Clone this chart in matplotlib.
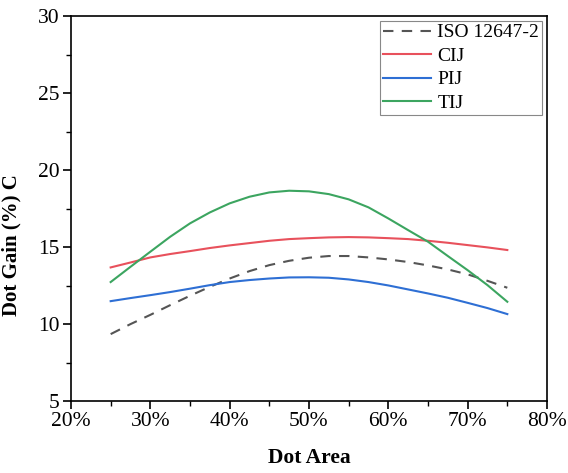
import matplotlib
matplotlib.use("Agg")
import matplotlib.pyplot as plt
from matplotlib.ticker import MultipleLocator, FuncFormatter

plt.rcParams["font.family"] = ["Liberation Serif", "DejaVu Serif"]

# dot area (%) sampled every 2.5 %
dot_area = [25, 27.5, 30, 32.5, 35, 37.5, 40, 42.5, 45, 47.5, 50,
            52.5, 55, 57.5, 60, 62.5, 65, 67.5, 70, 72.5, 75]
iso = [9.35, 10.0, 10.6, 11.23, 11.84, 12.42, 12.96, 13.44, 13.83, 14.11, 14.31,
       14.42, 14.42, 14.33, 14.2, 14.03, 13.81, 13.55, 13.23, 12.81, 12.36]
cij = [13.68, 14.0, 14.33, 14.55, 14.74, 14.94, 15.11, 15.26, 15.41, 15.52, 15.58,
       15.63, 15.65, 15.63, 15.58, 15.52, 15.41, 15.28, 15.13, 14.98, 14.81]
pij = [11.49, 11.69, 11.88, 12.08, 12.3, 12.53, 12.73, 12.86, 12.96, 13.03, 13.04,
       13.01, 12.9, 12.73, 12.51, 12.25, 11.99, 11.71, 11.38, 11.04, 10.65]
tij = [12.73, 13.72, 14.7, 15.67, 16.54, 17.25, 17.84, 18.27, 18.55, 18.66, 18.62,
       18.44, 18.1, 17.58, 16.86, 16.1, 15.35, 14.42, 13.5, 12.53, 11.45]

fig = plt.figure(figsize=(5.68, 4.73), dpi=100)
ax = fig.add_axes([0.125, 0.152, 0.838, 0.814])

ax.plot(dot_area, iso, color="#555555", lw=1.5, ls=(0, (5, 4)), label="ISO 12647-2")
ax.plot(dot_area, cij, color="#E8515C", lw=1.5, label="CIJ")
ax.plot(dot_area, pij, color="#2E6FD4", lw=1.5, label="PIJ")
ax.plot(dot_area, tij, color="#3CA560", lw=1.5, label="TIJ")

ax.set_xlim(20, 80)
ax.set_ylim(5, 30)
ax.xaxis.set_major_locator(MultipleLocator(10))
ax.xaxis.set_minor_locator(MultipleLocator(5))
ax.yaxis.set_major_locator(MultipleLocator(5))
ax.yaxis.set_minor_locator(MultipleLocator(2.5))
ax.xaxis.set_major_formatter(FuncFormatter(lambda v, p: f"{v:.0f}%"))
ax.tick_params(which="major", direction="out", length=6, width=1.2, labelsize=15.5, pad=2)
ax.tick_params(which="minor", direction="out", length=3.5, width=1.0)
for s in ax.spines.values():
    s.set_linewidth(1.2)

ax.set_xlabel("Dot Area", fontsize=15.5, fontweight="bold", labelpad=12)
ax.set_ylabel("Dot Gain (%) C", fontsize=15, fontweight="bold")
ax.yaxis.set_label_coords(-0.105, 0.405)

leg = ax.legend(loc="upper right", fontsize=14, handlelength=2.5, fancybox=False,
                edgecolor="#888888", framealpha=1, borderaxespad=0.25,
                labelspacing=0.3, handletextpad=0.3, borderpad=0.15)
leg.get_frame().set_linewidth(0.8)

fig.savefig("out.png", dpi=100)
